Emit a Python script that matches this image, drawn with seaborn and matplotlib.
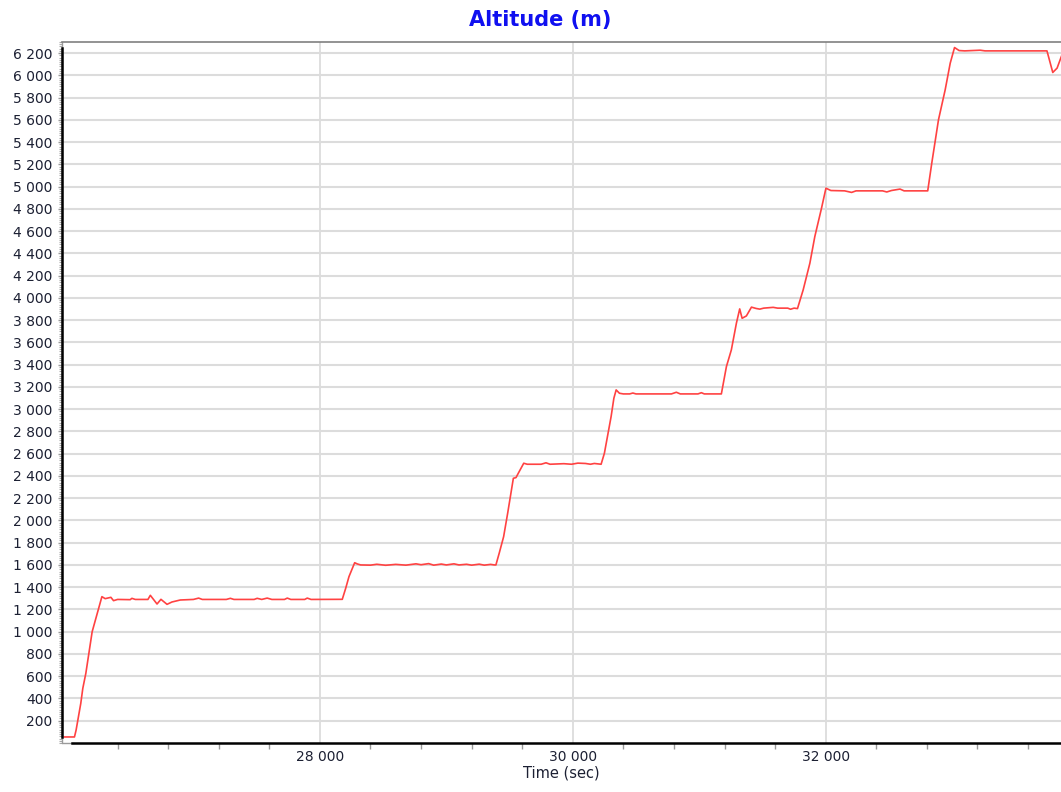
import numpy as np
import pandas as pd
import matplotlib
matplotlib.use("Agg")
import matplotlib.pyplot as plt
from matplotlib.ticker import MultipleLocator, FixedLocator, FuncFormatter
import seaborn as sns

# altitude trace (time in s, altitude in m)
time_sec = [25977, 26059, 26072, 26109, 26125, 26149, 26199, 26276, 26302, 26330,
            26347, 26368, 26400, 26500, 26513, 26540, 26640, 26659, 26712, 26743,
            26791, 26830, 26896, 27000, 27041, 27070, 27260, 27292, 27320, 27480,
            27504, 27540, 27583, 27620, 27720, 27742, 27770, 27880, 27900, 27930,
            28177, 28204, 28230, 28275, 28296, 28322, 28400, 28450, 28520, 28600,
            28680, 28760, 28800, 28860, 28900, 28960, 29000, 29060, 29100, 29160,
            29200, 29260, 29300, 29350, 29379, 29392, 29418, 29453, 29485, 29530,
            29551, 29569, 29612, 29640, 29750, 29788, 29820, 29929, 29990, 30040,
            30100, 30140, 30170, 30219, 30224, 30250, 30277, 30303, 30325, 30343,
            30369, 30400, 30450, 30475, 30500, 30780, 30819, 30850, 30990, 31017,
            31040, 31175, 31215, 31254, 31294, 31320, 31339, 31373, 31413, 31450,
            31479, 31510, 31585, 31620, 31700, 31722, 31750, 31777, 31822, 31875,
            31914, 31967, 32002, 32041, 32150, 32205, 32240, 32450, 32483, 32520,
            32588, 32620, 32807, 32839, 32892, 32945, 32985, 33019, 33055, 33100,
            33222, 33260, 33750, 33796, 33830, 33869]
altitude_m = [54, 54, 116, 356, 491, 626, 1000, 1315, 1297, 1305,
              1309, 1279, 1290, 1288, 1300, 1290, 1290, 1327, 1249, 1291,
              1246, 1267, 1285, 1290, 1302, 1290, 1290, 1300, 1290, 1290,
              1300, 1290, 1302, 1290, 1290, 1302, 1290, 1290, 1302, 1290,
              1291, 1390, 1495, 1620, 1609, 1600, 1598, 1606, 1597, 1605,
              1598, 1610, 1602, 1612, 1598, 1608, 1600, 1610, 1600, 1606,
              1598, 1607, 1598, 1605, 1600, 1600, 1705, 1854, 2065, 2379,
              2385, 2424, 2514, 2505, 2505, 2518, 2505, 2510, 2505, 2515,
              2512, 2505, 2512, 2505, 2505, 2604, 2769, 2933, 3099, 3173,
              3143, 3137, 3137, 3145, 3137, 3137, 3152, 3137, 3137, 3148,
              3137, 3137, 3383, 3533, 3773, 3901, 3817, 3838, 3917, 3905,
              3899, 3908, 3915, 3908, 3908, 3898, 3908, 3904, 4072, 4312,
              4551, 4806, 4986, 4965, 4962, 4948, 4962, 4962, 4952, 4965,
              4978, 4962, 4962, 5211, 5600, 5870, 6110, 6250, 6223, 6220,
              6226, 6220, 6220, 6026, 6065, 6185]

y_ticks = list(range(200, 6201, 200))
x_ticks = [28000, 30000, 32000]

df = pd.DataFrame({"Time (sec)": time_sec, "Altitude (m)": altitude_m})

sns.set_style("white")
plt.rcParams["font.family"] = ["DejaVu Sans"]
text_col = "#1c2033"
grid_col = "#dcdcdc"

fig = plt.figure(figsize=(10.61, 7.92), dpi=100)
ax = fig.add_axes([0.0585, 0.0619, 0.9415, 0.8851])

ax.yaxis.grid(True, color=grid_col, linewidth=1.5, zorder=0)
ax.xaxis.grid(True, color=grid_col, linewidth=1.3, zorder=0)
ax.set_axisbelow(True)

sns.lineplot(data=df, x="Time (sec)", y="Altitude (m)", color="#ff4242",
             linewidth=1.2, ax=ax, estimator=None, sort=False)

ax.set_xlim(25961, 33861)
ax.set_ylim(0, 6300)
ax.yaxis.set_major_locator(FixedLocator(y_ticks))
ax.yaxis.set_minor_locator(MultipleLocator(20))
ax.xaxis.set_major_locator(FixedLocator(x_ticks))
ax.xaxis.set_minor_locator(FixedLocator([t for t in range(26400, 33861, 400) if t % 2000 != 0]))

fmt = FuncFormatter(lambda v, p: f"{int(v):,}".replace(",", " "))
ax.xaxis.set_major_formatter(fmt)
ax.yaxis.set_major_formatter(fmt)

ax.tick_params(axis="both", which="both", left=True, bottom=True)
ax.tick_params(axis="y", which="major", length=3, width=1, color="#999999",
               labelsize=10, labelcolor=text_col, pad=4, direction="out")
ax.tick_params(axis="y", which="minor", length=2, width=0.8, color="#aaaaaa", direction="out")
ax.tick_params(axis="x", which="major", length=0, labelsize=10, labelcolor=text_col, pad=5)
ax.tick_params(axis="x", which="minor", length=4, width=1, color="#999999", direction="out")

for side in ["left", "bottom"]:
    ax.spines[side].set_color("black")
    ax.spines[side].set_linewidth(1.8)
ax.spines["left"].set_bounds(min(altitude_m), max(altitude_m))
ax.spines["bottom"].set_bounds(26040, 33861)
ax.spines["top"].set_color("#808080")
ax.spines["top"].set_linewidth(1.2)
ax.spines["right"].set_visible(False)
ax.plot([0, 0], [0, 1], transform=ax.transAxes, color="#9a9a9a", lw=1, clip_on=False, zorder=1)
ax.plot([0, 0.012], [0, 0], transform=ax.transAxes, color="#9a9a9a", lw=1, clip_on=False, zorder=1)

ax.set_ylabel("")
ax.set_xlabel("Time (sec)", fontsize=10.5, color=text_col, labelpad=1)

fig.text(0.509, 0.975, "Altitude (m)", ha="center", va="center",
         fontsize=15, fontweight="bold", color="#1010f0")

fig.savefig("out.png", dpi=100)
